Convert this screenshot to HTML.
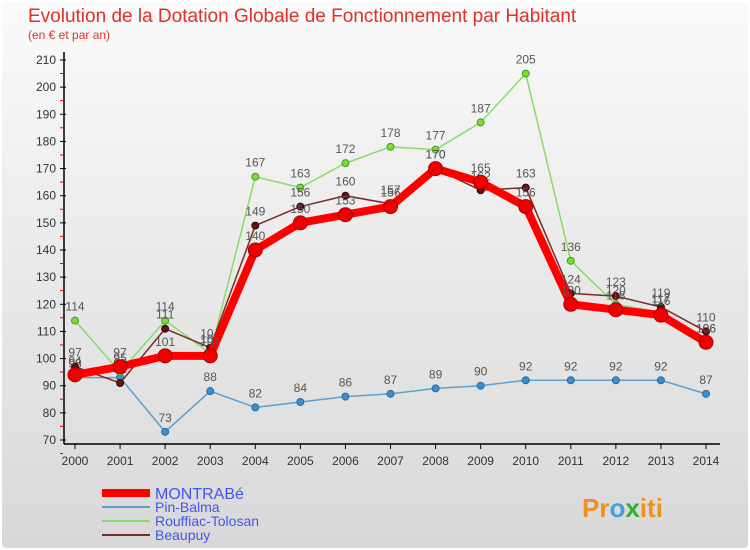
<!DOCTYPE html>
<html><head><meta charset="utf-8"><style>
body{margin:0;width:750px;height:550px;overflow:hidden;font-family:"Liberation Sans",sans-serif;background:#fff}
#wrap{position:absolute;left:0;top:0;width:746px;height:546px;border:2px solid #fff;border-radius:6px;background:linear-gradient(#fafafa,#d8d8d8);}
#c{position:absolute;left:-2px;top:-2px}
</style></head><body>
<div id="wrap">
<svg id="c" width="750" height="550"></svg>
</div>
<script>
const years=[2000,2001,2002,2003,2004,2005,2006,2007,2008,2009,2010,2011,2012,2013,2014];
const yTicks=[70,80,90,100,110,120,130,140,150,160,170,180,190,200,210];
const montrabe=[94,97,101,101,140,150,153,156,170,165,156,120,118,116,106];
const pinBalma=[93,93,73,88,82,84,86,87,89,90,92,92,92,92,87];
const rouffiac=[114,95,114,102,167,163,172,178,177,187,205,136,120,117,106];
const beaupuy=[97,91,111,104,149,156,160,157,170,162,163,124,123,119,110];
const NS='http://www.w3.org/2000/svg';
const svg=document.getElementById('c');
const X=i=>75+i*(706-75)/(years.length-1);
const Y=v=>440-(v-70)*(380/140);
function mk(t,a,p){const e=document.createElementNS(NS,t);for(const k in a)e.setAttribute(k,a[k]);(p||svg).appendChild(e);return e;}
function tx(x,y,s,a){const e=mk('text',Object.assign({x:x,y:y},a));e.textContent=s;return e;}
let t=tx(28,22,'Evolution de la Dotation Globale de Fonctionnement par Habitant',{'font-size':19,fill:'#e0302a'});

t=tx(28,39,'(en € et par an)',{'font-size':12,fill:'#e0302a'});

let ax=mk('line',{x1:64,y1:52,x2:64,y2:444,stroke:'#000','stroke-width':1.5});

ax=mk('line',{x1:64,y1:444,x2:720,y2:444,stroke:'#000','stroke-width':1.5});

yTicks.forEach(v=>{const y=Y(v);
 mk('line',{x1:60,y1:y,x2:66,y2:y,stroke:'#000'});
 mk('line',{x1:60,y1:y+13.5,x2:63,y2:y+13.5,stroke:'#e00'});
 const l=tx(56,y+4,v,{'font-size':12,fill:'#333','text-anchor':'end'});
 });
years.forEach((yr,i)=>{const x=X(i);
 mk('line',{x1:x,y1:444,x2:x,y2:449,stroke:'#000'});
 const l=tx(x,465,yr,{'font-size':12,fill:'#333','text-anchor':'middle'});
 });
function series(name,data,color,w,r,fill,edge){
 const g=mk('g',{});
 mk('polyline',{points:data.map((v,i)=>X(i)+','+Y(v)).join(' '),fill:'none',stroke:color,'stroke-width':w,'stroke-linejoin':'round'},g);
 data.forEach((v,i)=>{const c=mk('circle',{cx:X(i),cy:Y(v),r:r,fill:fill,stroke:edge,'stroke-width':1},g);
  
  tx(X(i),Y(v)-10,v,{'font-size':12,fill:'#555','text-anchor':'middle'},g);});
}
series('pin-balma',pinBalma,'#5aa0d0',1.5,3.5,'#3d8ed0','#2a6a9a');
series('rouffiac',rouffiac,'#88dd66',1.5,3.5,'#77dd33','#4a9a2a');
series('beaupuy',beaupuy,'#7a2a2a',1.5,3.5,'#661111','#440000');
series('montrabe',montrabe,'#ff0000',8,7,'#ee0000','#aa0000');
const leg=[['MONTRABé','#ff0000',8],['Pin-Balma','#5aa0d0',2],['Rouffiac-Tolosan','#88dd66',2],['Beaupuy','#7a2a2a',2]];
leg.forEach((l,i)=>{const y=493+i*14;const g=mk('g',{});
 
 mk('line',{x1:102,y1:y,x2:150,y2:y,stroke:l[1],'stroke-width':l[2]},g);
 tx(155,y+(i==0?6:5),l[0],{'font-size':i==0?16:14,fill:'#4455ee'},g);});
const p=tx(582,517,'Pr',{'font-size':26,'font-weight':'bold',fill:'#f09020'});

const s1=mk('tspan',{fill:'#40a0e0'},p);s1.textContent='o';
const s2=mk('tspan',{fill:'#30b030'},p);s2.textContent='x';
const s3=mk('tspan',{fill:'#f09020'},p);s3.textContent='iti';
</script>
</body></html>
